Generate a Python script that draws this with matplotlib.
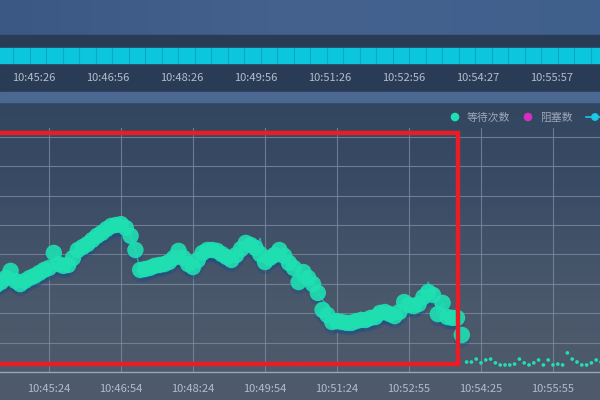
import numpy as np
import matplotlib
matplotlib.use("Agg")
import matplotlib.pyplot as plt
from matplotlib.patches import Rectangle, Circle

plt.rcParams['font.family'] = ['Noto Sans CJK SC', 'DejaVu Sans']

# ---------------- data ----------------
top_labels = ["10:45:26", "10:46:56", "10:48:26", "10:49:56",
              "10:51:26", "10:52:56", "10:54:27", "10:55:57"]
x_labels = ["10:45:24", "10:46:54", "10:48:24", "10:49:54",
            "10:51:24", "10:52:55", "10:54:25", "10:55:55"]
legend_names = ["等待次数", "阻塞数"]

# seconds relative to 10:45:24, one sample every 6 s
sample_step = 6
wait_start = -66
wait_vals = [29.6, 30.6, 32.0, 34.4, 31.0, 29.9, 31.0, 32.0, 32.7, 33.7,
             34.7, 35.4, 40.5, 36.7, 36.1, 36.4, 38.8, 41.5, 42.5, 43.5,
             44.9, 46.3, 47.3, 48.6, 49.7, 50.0, 50.3, 49.0, 46.3, 41.5,
             34.7, 35.0, 35.4, 36.1, 36.4, 36.7, 37.4, 38.8, 41.2, 38.8,
             36.7, 35.7, 38.1, 40.5, 41.5, 41.5, 41.2, 40.1, 39.1, 38.1,
             39.8, 41.8, 43.9, 43.2, 42.2, 40.1, 37.4, 38.8, 39.8, 41.5,
             39.5, 37.1, 35.4, 30.6, 34.0, 32.0, 29.9, 26.9, 21.1, 19.4,
             17.0, 17.3, 17.0, 16.7, 16.7, 17.3, 17.7, 17.7, 18.4, 18.7,
             20.1, 20.4, 19.7, 19.0, 20.4, 23.8, 22.8, 22.4, 23.1, 25.5,
             27.2, 26.2, 19.7, 23.5, 18.7, 18.4, 18.4, 12.6]
line_vals = [29.6, 30.6, 32.0, 33.4, 31.0, 29.9, 31.0, 32.0, 32.7, 33.7,
             34.7, 35.4, 38.5, 36.7, 36.1, 36.4, 38.8, 41.5, 42.5, 43.5,
             44.9, 46.3, 47.3, 48.6, 49.7, 50.0, 50.3, 49.0, 46.3, 41.5,
             34.7, 35.0, 35.4, 36.1, 36.4, 36.7, 37.4, 38.8, 41.2, 38.8,
             36.7, 35.7, 38.1, 40.5, 41.5, 41.5, 41.2, 40.1, 39.1, 38.1,
             39.8, 41.8, 43.9, 43.2, 42.2, 45.5, 37.4, 38.8, 39.8, 41.5,
             39.5, 37.1, 35.4, 30.6, 34.0, 32.0, 29.9, 26.9, 24.5, 22.8,
             17.0, 17.3, 17.0, 16.7, 16.7, 17.3, 20.4, 17.7, 18.4, 22.1,
             20.1, 20.4, 19.7, 19.0, 20.4, 23.8, 22.8, 22.4, 23.1, 25.5,
             30.6, 26.2, 19.7, 23.5, 18.7, 18.4, 18.4, 12.6]
small_start = 522
small_vals = [3.4, 3.4, 4.4, 3.1, 4.1, 4.4, 3.1, 2.4, 2.4, 2.4,
              2.7, 4.4, 3.1, 2.4, 3.1, 4.1, 2.4, 4.1, 2.4, 2.7,
              2.4, 6.5, 4.4, 3.4, 2.4, 2.4, 3.1, 4.1, 3.4]

# ---------------- figure ----------------
W, H = 600, 400
fig = plt.figure(figsize=(6, 4), dpi=100)

bg = fig.add_axes([0, 0, 1, 1])
bg.axis('off')

# top band gradient
grad = np.linspace(0, 1, 256).reshape(1, -1)
top_cmap = matplotlib.colors.LinearSegmentedColormap.from_list('t', ['#3b5783', '#45628f', '#40608c'])
bg.imshow(grad, extent=(0, W, 35, 0), cmap=top_cmap, aspect='auto', zorder=0)
# main panel vertical gradient
vgrad = np.linspace(0, 1, 256).reshape(-1, 1)
main_cmap = matplotlib.colors.LinearSegmentedColormap.from_list('m', ['#33465f', '#3b4d66', '#4a586b', '#4f5b6b'])
bg.imshow(vgrad, extent=(0, W, H, 102), cmap=main_cmap, aspect='auto', zorder=0)
bg.set_xlim(0, W)
bg.set_ylim(H, 0)
# dark band with cyan bar and labels
bg.add_patch(Rectangle((0, 35), W, 57, color='#2a3c55', zorder=1))
bg.add_patch(Rectangle((0, 48), W, 15, color='#0cc6de', zorder=2))
for sx in np.arange(13.4, W, 16.5):
    bg.plot([sx, sx], [48, 63], color='#0aa9c2', lw=0.8, zorder=3)
for i, lab in enumerate(top_labels):
    bg.text(34 + i * 74.0, 78, lab, color='#b3bccb', fontsize=8,
            ha='center', va='center', zorder=4)
# lighter strip
bg.add_patch(Rectangle((0, 92), W, 10, color='#4b6893', zorder=1))

# legend
bg.add_patch(Circle((455, 117), 3.6, color='#1fe0b2', zorder=5))
bg.text(467, 117.5, legend_names[0], color='#9ea8b8', fontsize=7.8, va='center', ha='left', zorder=5)
bg.add_patch(Circle((528, 117), 3.6, color='#d52fbf', zorder=5))
bg.text(540, 117.5, legend_names[1], color='#9ea8b8', fontsize=7.8, va='center', ha='left', zorder=5)
bg.plot([586, 600], [117, 117], color='#1cc8e6', lw=1.2, zorder=5)
bg.add_patch(Circle((595, 117), 3.2, color='#1cc8e6', zorder=5))

# ---------------- main axes ----------------
px_per_s = 0.8
x0_px = 49.0
y0_px = 372.0
px_per_unit = 2.94
ax_top_px = 128
ax = fig.add_axes([0, 1 - y0_px / H, 1, (y0_px - ax_top_px) / H])
ax.patch.set_alpha(0)

xticks = [i * 90 for i in range(len(x_labels))]
ax.set_xticks(xticks)
ax.set_xticklabels(x_labels, color='#b3bccb', fontsize=8)
ax.set_yticks(np.arange(0, 81, 10))
ax.set_xlim((0 - x0_px) / px_per_s, (W - x0_px) / px_per_s)
ax.set_ylim(0, (y0_px - ax_top_px) / px_per_unit)
ax.tick_params(axis='x', length=0, pad=9)
ax.tick_params(axis='y', length=0, labelleft=False)
ax.grid(True, color='#7f8da0', lw=0.8, alpha=0.75)
for s in ['top', 'right', 'left']:
    ax.spines[s].set_visible(False)
ax.spines['bottom'].set_color('#9aa6b6')
ax.spines['bottom'].set_linewidth(1.0)

wt = wait_start + sample_step * np.arange(len(wait_vals))
st = small_start + sample_step * np.arange(len(small_vals))

# shadow under circles
ax.scatter(wt, np.array(wait_vals) - 1.3, s=150, color='#1d4d86', alpha=0.35,
           edgecolors='none', zorder=3)
ax.plot(wt, line_vals, color='#2aa6d6', lw=0.9, zorder=3.5)
ax.scatter(wt, wait_vals, s=140, color='#1fe0b2', alpha=0.9,
           edgecolors='none', zorder=4)
ax.scatter(st, small_vals, s=7, color='#1fe0b2', edgecolors='none', zorder=4)

# ---------------- overlay red box ----------------
ov = fig.add_axes([0, 0, 1, 1])
ov.set_xlim(0, W)
ov.set_ylim(H, 0)
ov.axis('off')
ov.patch.set_alpha(0)
ov.add_patch(Rectangle((-10, 133), 467.5, 231, fill=False, edgecolor='#e81d25',
                       lw=3.2, zorder=10))

fig.savefig('out.png', dpi=100)
